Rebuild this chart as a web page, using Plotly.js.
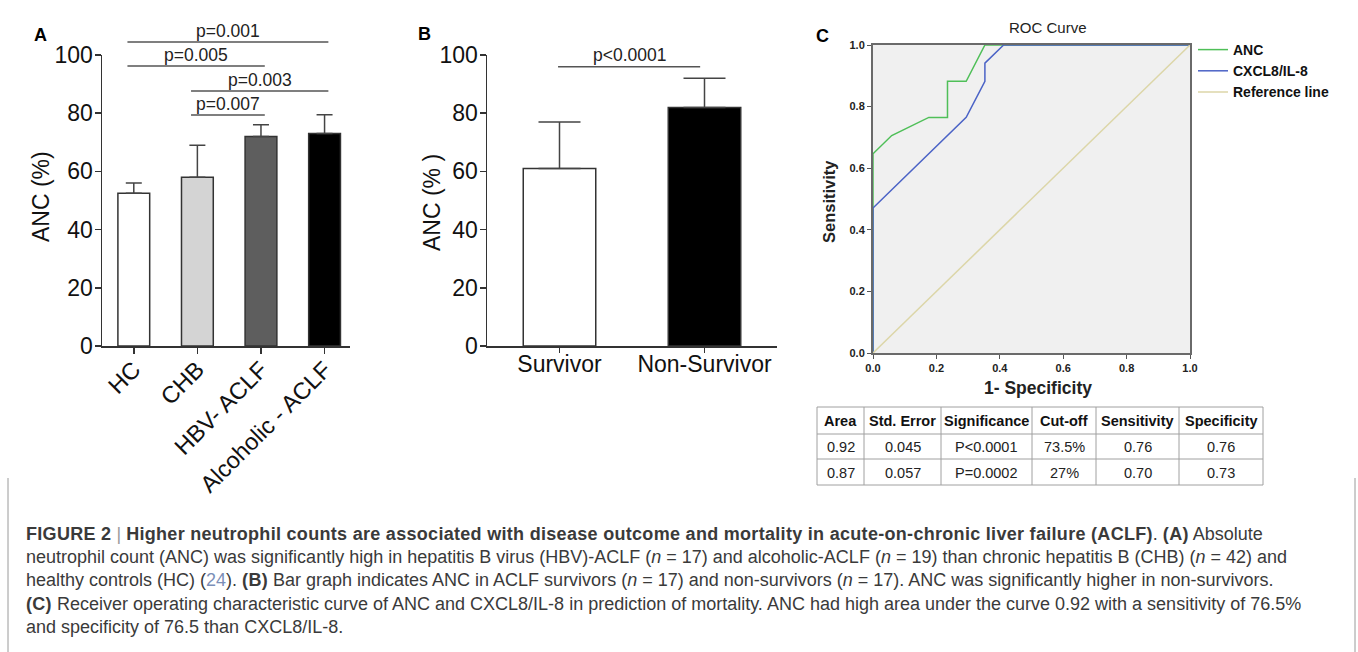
<!DOCTYPE html>
<html><head><meta charset="utf-8">
<script src="https://cdn.plot.ly/plotly-3.0.1.min.js"></script>
<style>html,body{margin:0;padding:0;background:#fff;} #chart{width:1358px;height:652px;}</style>
</head><body><div id="chart"></div>
<script>
// ---------- DATA ----------
const groupsA = ['HC', 'CHB', 'HBV- ACLF', 'Alcoholic - ACLF'];
const meanA = [52.5, 58, 72, 73];
const sdA = [3.5, 11, 4, 6.5];
const compFromA = [0, 0, 1, 1];
const compToA = [3, 2, 3, 2];
const compLabelA = ['p=0.001', 'p=0.005', 'p=0.003', 'p=0.007'];
const compLevelA = [104.5, 96.2, 87.6, 79.4];

const groupsB = ['Survivor', 'Non-Survivor'];
const meanB = [61, 82];
const sdB = [16, 10];
const compFromB = [0];
const compToB = [1];
const compLabelB = ['p<0.0001'];
const compLevelB = [96];

const ancFPR = [0, 0, 0.059, 0.176, 0.235, 0.235, 0.294, 0.353, 1];
const ancTPR = [0, 0.647, 0.706, 0.765, 0.765, 0.882, 0.882, 1, 1];
const cxclFPR = [0, 0, 0.294, 0.353, 0.353, 0.412, 1];
const cxclTPR = [0, 0.471, 0.765, 0.882, 0.941, 1, 1];
const refFPR = [0, 1];
const refTPR = [0, 1];
const rocNames = ['ANC', 'CXCL8/IL-8', 'Reference line'];

const tableHeader = ['Area', 'Std. Error', 'Significance', 'Cut-off', 'Sensitivity', 'Specificity'];
const tableRowANC = ['0.92', '0.045', 'P<0.0001', '73.5%', '0.76', '0.76'];
const tableRowCXCL = ['0.87', '0.057', 'P=0.0002', '27%', '0.70', '0.73'];

// ---------- LAYOUT HELPERS ----------
const W = 1358, H = 652;
const px = x => x / W;
const py = y => 1 - y / H;
const FONT = 'Liberation Sans, Arial, Helvetica, sans-serif';
const barColorsA = ['#ffffff', '#d4d4d4', '#5e5e5e', '#000000'];
const barColorsB = ['#ffffff', '#000000'];
const rocColors = ['#4fbf58', '#4b63c6', '#dcd6a8'];

const traces = [];

// Panel A bars
traces.push({
  type: 'bar', x: groupsA.map((g, i) => i), y: meanA, width: 0.5,
  marker: {color: barColorsA, line: {color: '#333', width: 1.5}},
  error_y: {type: 'data', symmetric: false, array: sdA, arrayminus: sdA.map(() => 0),
            color: '#444', thickness: 1.5, width: 8},
  xaxis: 'x', yaxis: 'y', showlegend: false, hoverinfo: 'skip'
});
// Panel A comparison lines (overlay axis y3 with identical scale)
compLabelA.forEach((lab, i) => {
  traces.push({
    type: 'scatter', mode: 'lines',
    x: [compFromA[i] - 0.1, compToA[i] + 0.06], y: [compLevelA[i], compLevelA[i]],
    line: {color: '#555', width: 1.5}, xaxis: 'x', yaxis: 'y3',
    showlegend: false, hoverinfo: 'skip'
  });
});

// Panel B bars
traces.push({
  type: 'bar', x: groupsB.map((g, i) => i), y: meanB, width: 0.5,
  marker: {color: barColorsB, line: {color: '#333', width: 1.5}},
  error_y: {type: 'data', symmetric: false, array: sdB, arrayminus: sdB.map(() => 0),
            color: '#444', thickness: 1.5, width: 21},
  xaxis: 'x2', yaxis: 'y2', showlegend: false, hoverinfo: 'skip'
});
compLabelB.forEach((lab, i) => {
  traces.push({
    type: 'scatter', mode: 'lines',
    x: [compFromB[i] - 0.01, compToB[i] - 0.03], y: [compLevelB[i], compLevelB[i]],
    line: {color: '#555', width: 1.5}, xaxis: 'x2', yaxis: 'y2',
    showlegend: false, hoverinfo: 'skip'
  });
});

// Panel C ROC
[[ancFPR, ancTPR], [cxclFPR, cxclTPR], [refFPR, refTPR]].forEach((d, i) => {
  traces.push({
    type: 'scatter', mode: 'lines', x: d[0], y: d[1], name: rocNames[i],
    line: {color: rocColors[i], width: 1.5}, xaxis: 'x4', yaxis: 'y4', hoverinfo: 'skip'
  });
});

// ---------- ANNOTATIONS ----------
const ann = [];
compLabelA.forEach((lab, i) => {
  ann.push({xref: 'x', yref: 'y3', x: (compFromA[i] + compToA[i]) / 2 - 0.02, y: compLevelA[i],
            text: lab, showarrow: false, yanchor: 'bottom', yshift: -1, font: {size: 17.5, color: '#222'}});
});
compLabelB.forEach((lab, i) => {
  ann.push({xref: 'x2', yref: 'y2', x: (compFromB[i] + compToB[i]) / 2 - 0.02, y: compLevelB[i],
            text: lab, showarrow: false, yanchor: 'bottom', yshift: 0, font: {size: 17.5, color: '#222'}});
});
const P = (x, y, text, opt) => Object.assign({xref: 'paper', yref: 'paper', x: px(x), y: py(y), text: text,
  showarrow: false, xanchor: 'center', yanchor: 'middle'}, opt || {});
ann.push(P(40, 35, '<b>A</b>', {font: {size: 18, color: '#000'}}));
ann.push(P(424, 34, '<b>B</b>', {font: {size: 18, color: '#000'}}));
ann.push(P(823, 36, '<b>C</b>', {font: {size: 18, color: '#000'}}));
ann.push(P(41, 197, 'ANC (%)', {textangle: -90, font: {size: 23, color: '#111'}}));
ann.push(P(432, 203, 'ANC (% )', {textangle: -90, font: {size: 23, color: '#111'}}));
ann.push(P(1048, 28, 'ROC Curve', {font: {size: 15, color: '#222'}}));
ann.push(P(1038, 388, '<b>1- Specificity</b>', {font: {size: 17.5, color: '#222'}}));
ann.push(P(829, 202, '<b>Sensitivity</b>', {textangle: -90, font: {size: 16.5, color: '#222'}}));

// Table (grid + cell text)
const colEdges = [817, 864, 941, 1032, 1096, 1179, 1263];
const rowEdges = [407, 434, 459, 485];
const tableRows = [tableHeader, tableRowANC, tableRowCXCL];
tableRows.forEach((row, r) => {
  row.forEach((v, c) => {
    ann.push(P((colEdges[c] + colEdges[c + 1]) / 2, (rowEdges[r] + rowEdges[r + 1]) / 2 + 0.5,
      r === 0 ? '<b>' + v + '</b>' : v, {font: {size: 14.5, color: r === 0 ? '#111' : '#222'}}));
  });
});

const capFont = {family: FONT, size: 18, color: '#3a3a3a'};
const B = s => "<b><span style='letter-spacing:0.3px'>" + s + "</span></b>";
const capLines = [
  B('FIGURE 2') + " <span style='color:#999'>|</span> " + B('Higher neutrophil counts are associated with disease outcome and mortality in acute-on-chronic liver failure (ACLF)') + '. ' + B('(A)') + ' Absolute',
  "neutrophil count (ANC) was significantly high in hepatitis B virus (HBV)-ACLF (<i>n</i> = 17) and alcoholic-ACLF (<i>n</i> = 19) than chronic hepatitis B (CHB) (<i>n</i> = 42) and",
  "healthy controls (HC) (<span style='color:#7b8fb8'>24</span>). " + B('(B)') + " Bar graph indicates ANC in ACLF survivors (<i>n</i> = 17) and non-survivors (<i>n</i> = 17). ANC was significantly higher in non-survivors.",
  B('(C)') + " Receiver operating characteristic curve of ANC and CXCL8/IL-8 in prediction of mortality. ANC had high area under the curve 0.92 with a sensitivity of 76.5%",
  "and specificity of 76.5 than CXCL8/IL-8."
];
const capY = [534, 557, 580, 604, 627];
capLines.forEach((t, i) => ann.push(P(24, capY[i], t, {xanchor: 'left', font: capFont})));

// ---------- SHAPES ----------
const gridLine = {color: '#a0a0a0', width: 1};
const shapes = [
  {type: 'rect', xref: 'x4 domain', yref: 'y4 domain', x0: 0, x1: 1, y0: 0, y1: 1,
   fillcolor: '#f0f0f0', line: {width: 0}, layer: 'below'},
  {type: 'line', xref: 'paper', yref: 'paper', x0: px(8), x1: px(8), y0: py(478), y1: py(652),
   line: {color: '#9a9a9a', width: 1}},
  {type: 'line', xref: 'paper', yref: 'paper', x0: px(1355), x1: px(1355), y0: py(478), y1: py(652),
   line: {color: '#9a9a9a', width: 1}}
];
colEdges.forEach(x => shapes.push({type: 'line', xref: 'paper', yref: 'paper', x0: px(x), x1: px(x),
  y0: py(rowEdges[0]), y1: py(rowEdges[rowEdges.length - 1]), line: gridLine}));
rowEdges.forEach(y => shapes.push({type: 'line', xref: 'paper', yref: 'paper', x0: px(colEdges[0]),
  x1: px(colEdges[colEdges.length - 1]), y0: py(y), y1: py(y), line: gridLine}));

// ---------- AXES ----------
const barY = {range: [0, 100], tickvals: [0, 20, 40, 60, 80, 100], ticks: 'outside', ticklen: 6,
  tickwidth: 1.5, tickcolor: '#333', showline: true, linecolor: '#333', linewidth: 1.5,
  showgrid: false, zeroline: false, tickfont: {size: 23, color: '#111'}, fixedrange: true,
  ticklabelstandoff: -3};
const rocAx = {range: [0, 1], dtick: 0.2, tick0: 0, tickformat: '.1f', ticks: 'outside', ticklen: 4,
  tickwidth: 1, tickcolor: '#555', showline: true, mirror: true, linecolor: '#6a6a6a', linewidth: 2,
  showgrid: false, zeroline: false, tickfont: {size: 11, color: '#222', weight: 'bold'}};

const layout = {
  width: W, height: H, margin: {l: 0, r: 0, t: 0, b: 0},
  paper_bgcolor: '#ffffff', plot_bgcolor: 'rgba(0,0,0,0)',
  font: {family: FONT, color: '#111'},
  showlegend: true,
  legend: {x: px(1193), y: py(34), xanchor: 'left', yanchor: 'top', bgcolor: 'rgba(0,0,0,0)',
           font: {size: 14, color: '#111', weight: 'bold'}, tracegroupgap: 0},
  xaxis: {domain: [px(102), px(350)], range: [-0.5, 3.4], anchor: 'y',
          tickvals: groupsA.map((g, i) => i), ticktext: groupsA, tickangle: -45,
          ticks: 'outside', ticklen: 6, tickwidth: 1.5, tickcolor: '#333',
          showline: true, linecolor: '#333', linewidth: 1.5, showgrid: false, zeroline: false,
          tickfont: {size: 23.5, color: '#111'}, ticklabelstandoff: -7},
  yaxis: Object.assign({domain: [py(346), py(55)], anchor: 'x'}, barY),
  yaxis3: {domain: [py(346), py(20)], range: [0, 100 * 326 / 291], anchor: 'x', visible: false},
  xaxis2: {domain: [px(487), px(777)], range: [-0.5, 1.5], anchor: 'y2',
           tickvals: groupsB.map((g, i) => i), ticktext: groupsB, tickangle: 0,
           ticks: 'outside', ticklen: 5, tickwidth: 1.5, tickcolor: '#333',
           showline: true, linecolor: '#333', linewidth: 1.5, showgrid: false, zeroline: false,
           tickfont: {size: 23, color: '#111'}, ticklabelstandoff: -8},
  yaxis2: Object.assign({domain: [py(346), py(55)], anchor: 'x2'}, barY),
  xaxis4: Object.assign({domain: [px(873), px(1190)], anchor: 'y4'}, rocAx),
  yaxis4: Object.assign({domain: [py(353), py(45)], anchor: 'x4'}, rocAx),
  annotations: ann,
  shapes: shapes
};

Plotly.newPlot('chart', traces, layout, {staticPlot: true, displayModeBar: false});
</script></body></html>
